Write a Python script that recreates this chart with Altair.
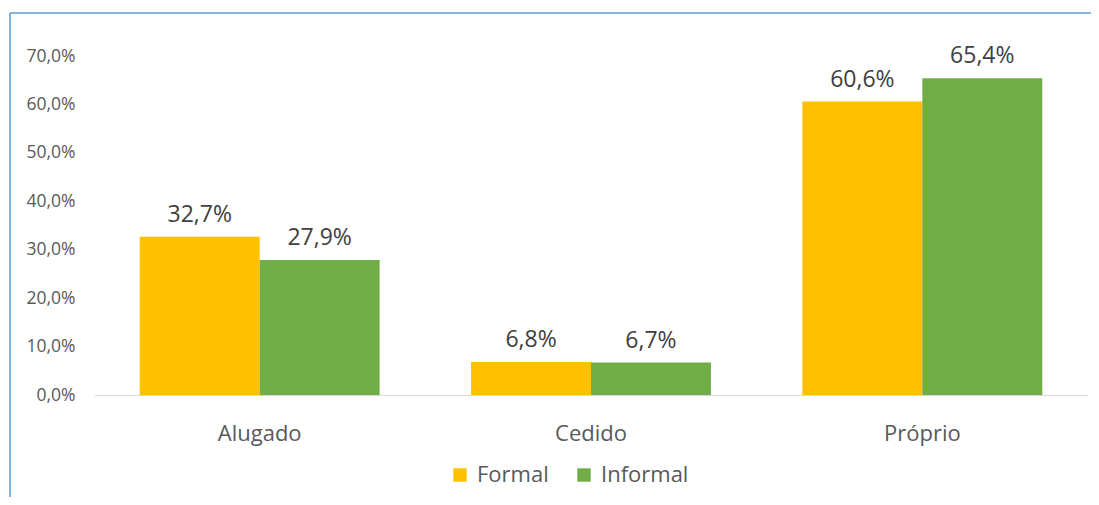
import altair as alt
import pandas as pd

categories = ["Alugado", "Cedido", "Próprio"]
series = ["Formal", "Informal"]
formal = [0.327, 0.068, 0.606]
informal = [0.279, 0.067, 0.654]
y_ticks = [0.0, 0.1, 0.2, 0.3, 0.4, 0.5, 0.6, 0.7]
colors = ["#FFC000", "#70AD47"]

rows = []
for c, f, i in zip(categories, formal, informal):
    rows.append({"cat": c, "serie": "Formal", "v": f})
    rows.append({"cat": c, "serie": "Informal", "v": i})
df = pd.DataFrame(rows)

W, H = 994, 339
font = "Open Sans"
pct = "replace(format({v},'.1%'),'.',',')"

x = alt.X(
    "cat:N", sort=categories,
    scale=alt.Scale(paddingInner=0.276, paddingOuter=0.138),
    axis=alt.Axis(title=None, labelAngle=0, labelFontSize=22, labelColor="#595959",
                  labelFont=font, ticks=False, domainColor="#D9D9D9", domainWidth=1,
                  labelPadding=45, labelBaseline="alphabetic"),
)
xo = alt.XOffset("serie:N", sort=series, scale=alt.Scale(paddingInner=0, paddingOuter=0))
y = alt.Y(
    "v:Q", scale=alt.Scale(domain=[0, 0.7], nice=False),
    axis=alt.Axis(title=None, values=y_ticks, labelExpr=pct.format(v="datum.value"),
                  grid=False, domain=False, ticks=False, labelFontSize=17.5,
                  labelColor="#595959", labelPadding=19, labelFont=font),
)
color = alt.Color(
    "serie:N", sort=series, scale=alt.Scale(domain=series, range=colors),
    legend=alt.Legend(title=None, orient="none", direction="horizontal",
                      legendX=355, legendY=408, symbolType="square", symbolSize=180,
                      symbolStrokeWidth=0, labelFontSize=22, labelColor="#595959",
                      labelFont=font, labelOffset=6, columnPadding=24, padding=0,
                      symbolOpacity=1),
)

bars = alt.Chart(df).mark_bar().encode(x=x, xOffset=xo, y=y, color=color)
labels = alt.Chart(df).transform_calculate(
    lab=pct.format(v="datum.v")
).mark_text(dy=-15, baseline="alphabetic", fontSize=23, color="#404040", font=font).encode(
    x=x, xOffset=xo, y=y, text="lab:N"
)

frame_df = pd.DataFrame({"k": [0]})
top_line = alt.Chart(frame_df).mark_rule(color="#5B9BD5", strokeWidth=1.5).encode(
    x=alt.value(-84), x2=alt.value(1000), y=alt.value(-43)
)
left_line = alt.Chart(frame_df).mark_rule(color="#5B9BD5", strokeWidth=1.5).encode(
    x=alt.value(-84), y=alt.value(-43), y2=alt.value(H + 110)
)

chart = alt.layer(top_line, left_line, bars, labels).properties(
    width=W, height=H,
    padding={"left": 86, "top": 48, "right": 3, "bottom": 102},
    autosize=alt.AutoSizeParams(type="none"),
).configure_view(stroke=None)

chart.save("out.html", embed_options={"renderer": "svg", "actions": False})
